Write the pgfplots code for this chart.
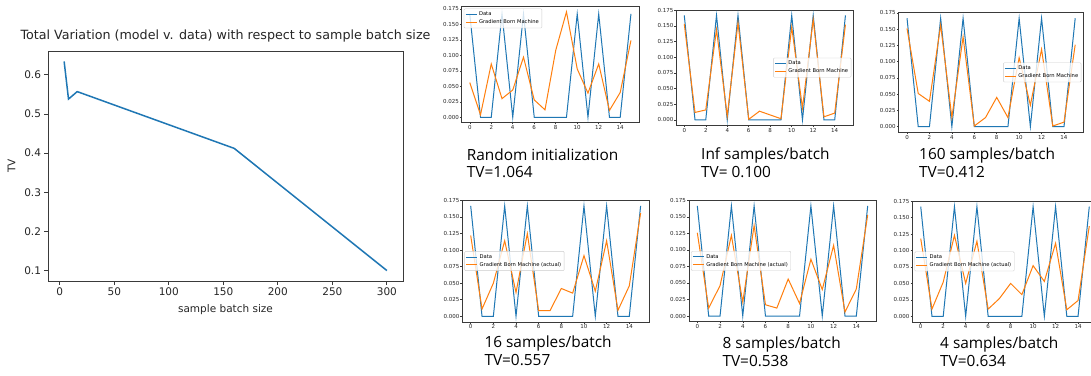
\documentclass[border=0pt]{standalone}
\usepackage{fontspec}
\setmainfont{DejaVu Sans}
\newfontfamily\capfont{Open Sans}
\usepackage{pgfplots}
\usepackage{pgfplotstable}
\pgfplotsset{compat=1.18}
\definecolor{cA}{HTML}{1F77B4}
\definecolor{cB}{HTML}{FF7F0E}
\definecolor{fr}{HTML}{3A3A3A}
\definecolor{tx}{HTML}{262626}

\pgfplotstableread{
x data rnd inf s160 s16 s8 s4
0  0.1667 0.056 0.153 0.151 0.122 0.126 0.118
1  0      0.004 0.012 0.051 0.011 0.012 0.011
2  0      0.086 0.016 0.039 0.050 0.046 0.052
3  0.1667 0.030 0.144 0.156 0.114 0.122 0.123
4  0      0.044 0.006 0.014 0.036 0.021 0.050
5  0.1667 0.097 0.155 0.138 0.125 0.137 0.114
6  0      0.028 0.001 0.001 0.0085 0.017 0.011
7  0      0.012 0.014 0.014 0.0085 0.012 0.027
8  0      0.108 0.008 0.045 0.042 0.056 0.050
9  0      0.170 0.002 0.014 0.035 0.019 0.033
10 0.1667 0.078 0.148 0.106 0.0915 0.086 0.077
11 0      0.039 0.019 0.033 0.038 0.040 0.053
12 0.1667 0.086 0.160 0.119 0.114 0.107 0.111
13 0      0.011 0.005 0.001 0.009 0.006 0.010
14 0      0.040 0.011 0.007 0.046 0.041 0.024
15 0.1667 0.124 0.152 0.126 0.156 0.153 0.137
}\sub

\pgfplotstableread{
n tv
4   0.634
8   0.538
16  0.557
160 0.412
300 0.100
}\main

\pgfplotsset{
  mpl/.style={
    scale only axis,
    axis line style={fr, line width=0.8pt},
    every tick/.style={fr, line width=0.8pt},
    tick align=outside,
    xtick pos=bottom, ytick pos=left,
    minor tick num=0,
    /pgf/number format/assume math mode=true,
    ticklabel style={text=tx},
  },
  small/.style={
    mpl,
    anchor=north west,
    xmin=-0.75, xmax=15.75, ymin=-0.00833, ymax=0.1752,
    xtick={0,2,4,6,8,10,12,14},
    ytick={0,0.025,0.05,0.075,0.1,0.125,0.15,0.175},
    axis line style={fr, line width=0.5pt},
    every tick/.style={fr, line width=0.5pt},
    major tick length=1.75pt,
    ticklabel style={font=\fontsize{5.5}{6}\selectfont, inner sep=1pt},
    yticklabel style={/pgf/number format/.cd, fixed, fixed zerofill, precision=3},
    legend cell align=left,
    legend image code/.code={\draw[mark repeat=2,mark phase=2,##1] plot coordinates {(0pt,0pt) (5.5pt,0pt) (11pt,0pt)};},
    legend style={font=\fontsize{5.2}{6}\selectfont, draw=black!20, fill=white,
      fill opacity=0.8, text opacity=1, draw opacity=1, rounded corners=1pt, inner sep=1pt,
      row sep=-1.5pt, line width=0.4pt},
  },
  dline/.style={draw=cA, line width=1pt},
  oline/.style={draw=cB, line width=1pt},
}

\begin{document}
\begin{tikzpicture}
\fill[white] (0pt,0pt) rectangle (1091pt,-375pt);
\useasboundingbox (0pt,0pt) rectangle (1091pt,-375pt);

% main plot
\begin{axis}[mpl,
  at={(48pt,-51pt)}, anchor=north west,
  width=355pt, height=230pt,
  xmin=-10.8, xmax=314.8, ymin=0.0733, ymax=0.6607,
  xtick={0,50,100,150,200,250,300},
  ytick={0.1,0.2,0.3,0.4,0.5,0.6},
  major tick length=3.5pt,
  ticklabel style={font=\fontsize{10.5}{12}\selectfont},
  yticklabel style={/pgf/number format/.cd, fixed, fixed zerofill, precision=1},
  title={Total Variation (model v. data) with respect to sample batch size},
  title style={font=\fontsize{12.7}{14}\selectfont, text=tx, at={(0.5,1)}, anchor=base, yshift=6pt, inner sep=0pt},
  xlabel={sample batch size},
  xlabel style={font=\fontsize{10.5}{12}\selectfont, text=tx, at={(0.5,0)}, anchor=base, yshift=-31pt, inner sep=0pt},
  ylabel={TV},
  ylabel style={font=\fontsize{10.5}{12}\selectfont, text=tx, at={(-0.0921,0.5)}, anchor=base, inner sep=0pt},
]
\addplot[draw=cA, line width=1.5pt] table[x=n, y=tv] {\main};
\end{axis}

% top row
\begin{axis}[small, at={(461.7pt,-6pt)}, width=177.3pt, height=116.7pt,
  ymin=-0.0088, ymax=0.1795,
  legend style={at={(0.012,0.978)}, anchor=north west}]
\addplot[dline] table[x=x, y=data] {\sub};
\addplot[oline] table[x=x, y=rnd] {\sub};
\legend{Data, Gradient Born Machine}
\end{axis}

\begin{axis}[small, at={(676.2pt,-10pt)}, width=177.3pt, height=115.2pt,
  legend style={at={(0.988,0.5)}, anchor=east}]
\addplot[dline] table[x=x, y=data] {\sub};
\addplot[oline] table[x=x, y=inf] {\sub};
\legend{Data, Gradient Born Machine}
\end{axis}

\begin{axis}[small, at={(898.6pt,-12.7pt)}, width=185pt, height=119.4pt,
  legend style={at={(0.988,0.5)}, anchor=east}]
\addplot[dline] table[x=x, y=data] {\sub};
\addplot[oline] table[x=x, y=s160] {\sub};
\legend{Data, Gradient Born Machine}
\end{axis}

% bottom row
\begin{axis}[small, at={(462.2pt,-200.3pt)}, width=186.9pt, height=121.5pt,
  legend style={at={(0.012,0.5)}, anchor=west}]
\addplot[dline] table[x=x, y=data] {\sub};
\addplot[oline] table[x=x, y=s16] {\sub};
\legend{Data, Gradient Born Machine (actual)}
\end{axis}

\begin{axis}[small, at={(688.8pt,-200.3pt)}, width=187.4pt, height=121.2pt,
  legend style={at={(0.012,0.5)}, anchor=west}]
\addplot[dline] table[x=x, y=data] {\sub};
\addplot[oline] table[x=x, y=s8] {\sub};
\legend{Data, Gradient Born Machine (actual)}
\end{axis}

\begin{axis}[small, at={(912.3pt,-201pt)}, width=185.4pt, height=120.8pt,
  legend style={at={(0.012,0.5)}, anchor=west}]
\addplot[dline] table[x=x, y=data] {\sub};
\addplot[oline] table[x=x, y=s4] {\sub};
\legend{Data, Gradient Born Machine (actual)}
\end{axis}

% captions
\tikzset{captxt/.style={anchor=base west, inner sep=0pt, text=black, font=\capfont\fontsize{15.4}{18}\selectfont}}
\node[captxt] at (466.7pt,-160pt) {Random initialization};
\node[captxt] at (466.7pt,-177.3pt) {TV=1.064};
\node[captxt] at (701pt,-159.3pt) {Inf samples/batch};
\node[captxt] at (701pt,-177.7pt) {TV= 0.100};
\node[captxt] at (919pt,-159.3pt) {160 samples/batch};
\node[captxt] at (919pt,-177.7pt) {TV=0.412};
\node[captxt] at (484.3pt,-347.3pt) {16 samples/batch};
\node[captxt] at (484.3pt,-365pt) {TV=0.557};
\node[captxt] at (722.3pt,-348.3pt) {8 samples/batch};
\node[captxt] at (722.3pt,-366.7pt) {TV=0.538};
\node[captxt] at (940pt,-348.3pt) {4 samples/batch};
\node[captxt] at (940pt,-366.7pt) {TV=0.634};
\end{tikzpicture}
\end{document}
